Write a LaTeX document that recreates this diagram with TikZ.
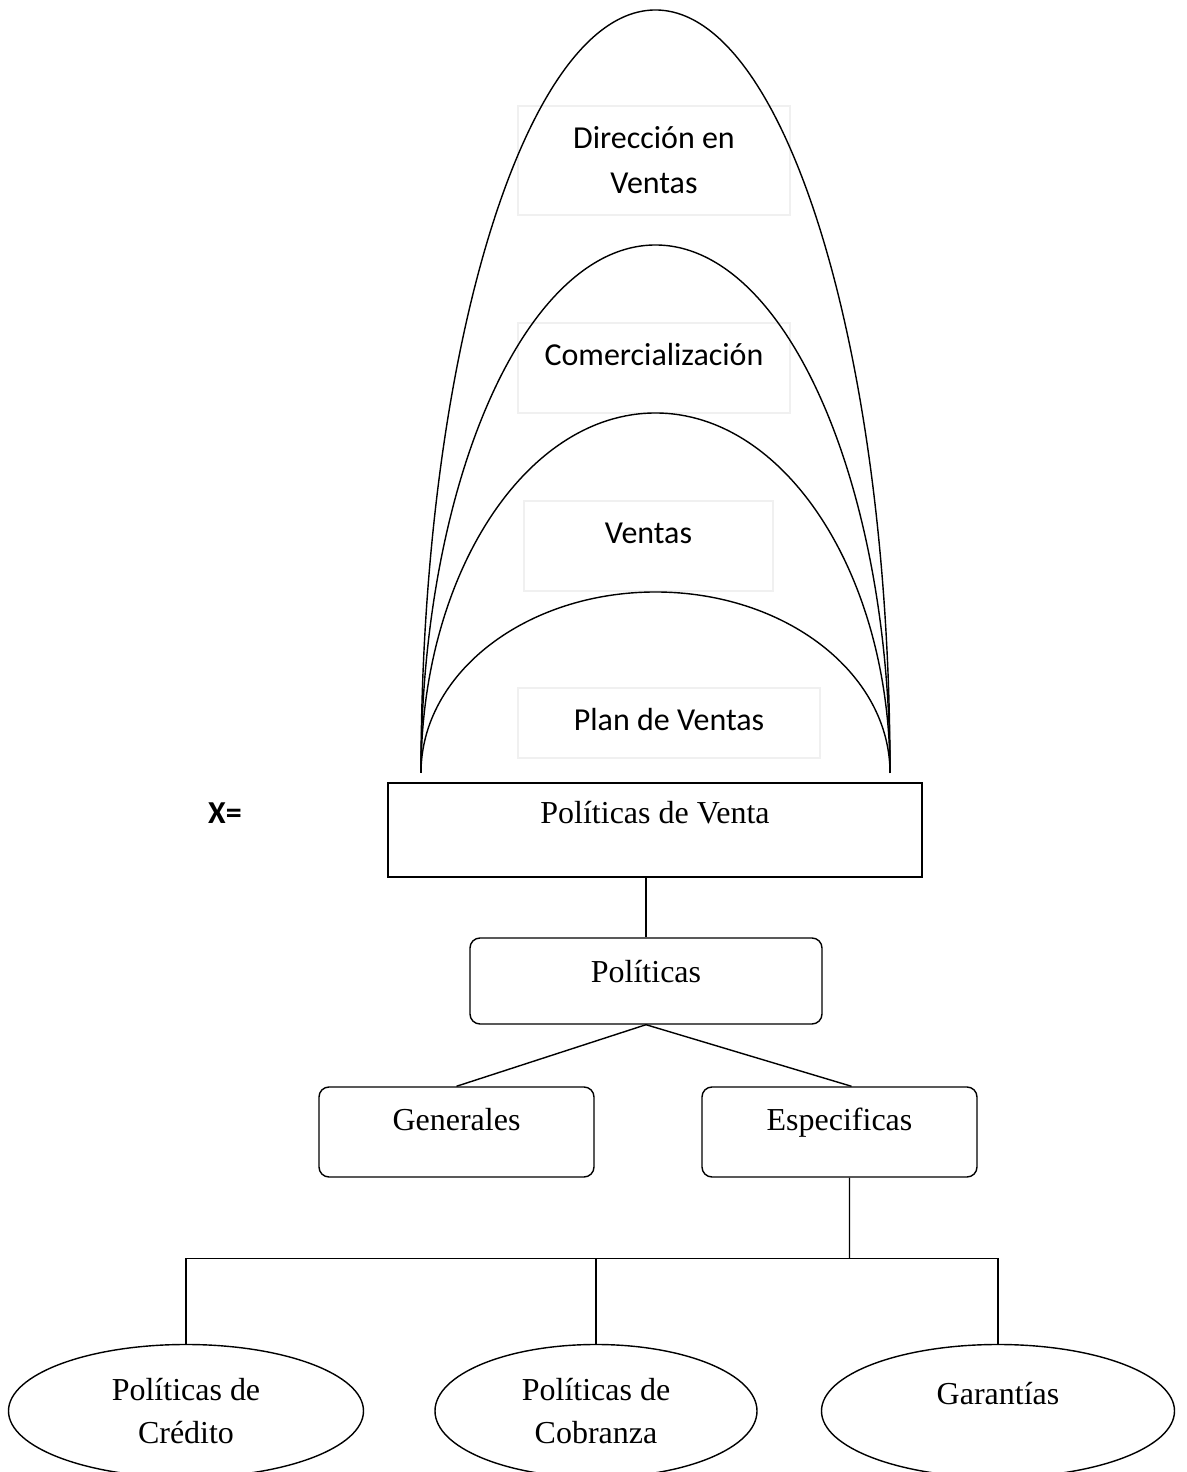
\documentclass[tikz,border=0pt]{standalone}
\usepackage{fontspec}
\setmainfont{Liberation Serif}
\newfontfamily\calfont{Carlito}
\usepackage{tikz}
\usetikzlibrary{positioning,calc,shapes.geometric}
\newcommand{\romsize}{\fontsize{18.2}{24.4}\selectfont}
\newcommand{\calsize}{\calfont\fontsize{18.2}{25.6}\selectfont}

\begin{document}
\begin{tikzpicture}[
  txtbox/.style={draw=black!6, line width=0.8pt, font=\calsize, align=center, inner sep=0pt},
  plainbox/.style={draw, line width=0.8pt, font=\romsize, inner sep=0pt},
  roundbox/.style={plainbox, rounded corners=0.2cm},
  oval/.style={ellipse, draw, line width=0.8pt, font=\romsize, align=center, inner sep=0pt,
               minimum height=2.66cm},
  link/.style={line width=0.8pt}
]
  \useasboundingbox (0,0) rectangle (23.74,29.44);
  \clip (0,0) rectangle (23.74,29.44);

  % labels inside the arches
  \node[txtbox, minimum width=5.44cm, minimum height=2.18cm] (dir) at (13.08,26.23)
    {Dirección en\\Ventas};
  \node[txtbox, minimum width=5.44cm, text height=0.85cm, text depth=0.95cm] (com) at (13.08,22.08)
    {Comercialización};
  \node[txtbox, minimum width=4.98cm, text height=0.85cm, text depth=0.95cm] (ven) at (12.97,18.52)
    {Ventas};
  \node[txtbox, minimum width=6.04cm, text height=0.85cm, text depth=0.55cm] (plan) at (13.38,14.98)
    {Plan de Ventas};

  % arches
  \coordinate (lt) at (8.42,13.98);
  \coordinate (rt) at (17.80,13.98);
  \draw[link] (lt) arc[start angle=180, end angle=0, x radius=4.69cm, y radius=15.26cm];
  \draw[link] (lt) arc[start angle=180, end angle=0, x radius=4.69cm, y radius=10.56cm];
  \draw[link] (lt) arc[start angle=180, end angle=0, x radius=4.69cm, y radius=7.20cm];
  \draw[link] (lt) arc[start angle=180, end angle=0, x radius=4.69cm, y radius=3.62cm];

  \node[font=\calsize\bfseries] (eq) at (4.50,13.18) {X=};

  % tree
  \node[plainbox, minimum width=10.68cm, text height=0.81cm, text depth=1.07cm] (pv) at (13.10,12.84)
    {Políticas de Venta};
  \node[roundbox, minimum width=7.04cm, text height=0.89cm, text depth=0.83cm] (pol) at (12.92,9.82)
    {Políticas};
  \node[roundbox, minimum width=5.50cm, text height=0.87cm, text depth=0.93cm] (gen) at (9.13,6.80)
    {Generales};
  \node[roundbox, minimum width=5.50cm, text height=0.87cm, text depth=0.93cm] (esp) at (16.79,6.80)
    {Especificas};

  \node[oval, minimum width=7.10cm] (cred) at (3.72,1.22) {Políticas de\\Crédito};
  \node[oval, minimum width=6.44cm] (cob) at (11.92,1.22) {Políticas de\\Cobranza};
  \node[oval, minimum width=7.06cm, text height=0.7cm, text depth=0.95cm] (gar) at (19.96,1.22)
    {Garantías};

  \draw[link] (pv.south -| pol.north) -- (pol.north);
  \draw[link] (pol.south) -- (gen.north);
  \draw[link] (pol.south) -- ([xshift=0.24cm]esp.north);

  \coordinate (jn) at (16.99,4.27);
  \draw[link] ([xshift=0.2cm]esp.south) -- (jn);
  \draw[link] (cred.north) |- (jn) -| (gar.north);
  \draw[link] (cob.north) -- (cob.north |- jn);
\end{tikzpicture}
\end{document}
